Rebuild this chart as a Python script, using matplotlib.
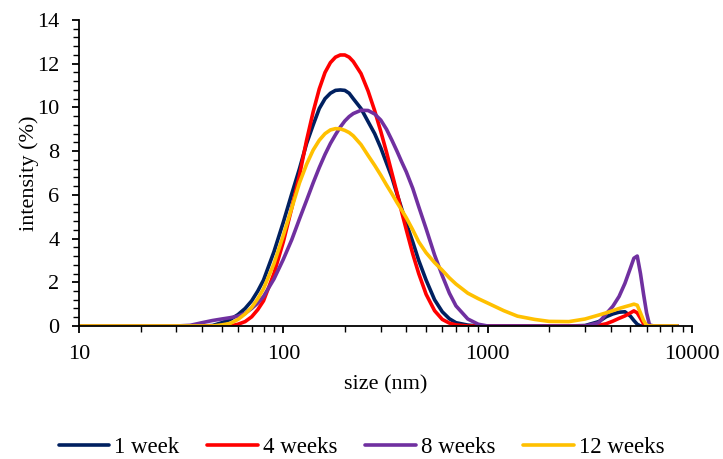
import matplotlib
matplotlib.use("Agg")
import matplotlib.pyplot as plt
from matplotlib.ticker import MultipleLocator, LogLocator, NullFormatter, FixedLocator

plt.rcParams['font.family'] = ['Liberation Serif', 'DejaVu Serif']

# size grid (nm) and intensity (%)
size_nm = [10, 20, 30, 35, 40, 45, 50, 55, 60, 65, 70, 75, 80, 90, 100,
           110, 120, 130, 140, 150, 160, 170, 180, 190, 200, 210, 220, 240,
           260, 280, 300, 320, 340, 360, 380, 400, 430, 460, 500, 550, 600,
           650, 700, 800, 900, 1000, 1200, 1400, 1700, 2000, 2500, 3000,
           3500, 3800, 4100, 4400, 4700, 5000, 5200, 5400, 5600, 5800, 6000,
           6200, 6500, 7000, 8500]

week1 = [0, 0, 0, 0, 0, 0.02, 0.15, 0.3, 0.52, 0.8, 1.15, 1.6, 2.1, 3.4, 4.75,
         6.05, 7.2, 8.35, 9.2, 9.95, 10.4, 10.65, 10.78, 10.8, 10.78, 10.65, 10.4, 9.95,
         9.35, 8.8, 8.15, 7.45, 6.8, 6.05, 5.35, 4.7, 3.85, 3.0, 2.1, 1.2, 0.65,
         0.33, 0.15, 0.04, 0, 0, 0, 0, 0, 0, 0, 0.02,
         0.2, 0.42, 0.55, 0.63, 0.65, 0.45, 0.25, 0.08, 0, 0, 0,
         0, 0, 0, 0]

week4 = [0, 0, 0, 0, 0, 0, 0, 0, 0.08, 0.2, 0.42, 0.75, 1.15, 2.4, 3.85,
         5.4, 6.9, 8.5, 9.8, 10.85, 11.6, 12.05, 12.3, 12.4, 12.4, 12.3, 12.1, 11.55,
         10.75, 9.85, 8.9, 7.95, 7.0, 6.1, 5.2, 4.4, 3.3, 2.4, 1.45, 0.7, 0.3,
         0.13, 0.05, 0, 0, 0, 0, 0, 0, 0, 0, 0,
         0.03, 0.1, 0.22, 0.35, 0.46, 0.6, 0.69, 0.6, 0.35, 0.1, 0,
         0, 0, 0, 0]

week8 = [0, 0, 0, 0.03, 0.15, 0.25, 0.32, 0.38, 0.45, 0.58, 0.8, 1.05, 1.35, 2.15, 3.05,
         3.95, 4.9, 5.75, 6.55, 7.25, 7.85, 8.35, 8.75, 9.1, 9.38, 9.58, 9.72, 9.87,
         9.86, 9.7, 9.42, 9.0, 8.5, 8.0, 7.5, 7.05, 6.3, 5.46, 4.45, 3.25, 2.3,
         1.5, 0.92, 0.32, 0.08, 0, 0, 0, 0, 0, 0, 0,
         0.15, 0.55, 0.9, 1.35, 1.95, 2.65, 3.1, 3.2, 2.4, 1.45, 0.6,
         0.05, 0, 0, 0]

week12 = [0, 0, 0, 0, 0, 0, 0.05, 0.12, 0.3, 0.55, 0.85, 1.25, 1.7, 2.85, 4.15,
          5.4, 6.55, 7.4, 8.05, 8.5, 8.8, 8.97, 9.03, 9.02, 8.95, 8.85, 8.7, 8.3,
          7.8, 7.35, 6.9, 6.45, 6.05, 5.65, 5.3, 4.95, 4.4, 3.85, 3.35, 2.9, 2.55,
          2.2, 1.92, 1.5, 1.25, 1.05, 0.7, 0.45, 0.3, 0.21, 0.2, 0.32,
          0.5, 0.6, 0.7, 0.8, 0.88, 0.95, 1.0, 0.95, 0.6, 0.25, 0.03,
          0, 0, 0, 0]

labels = ['1 week', '4 weeks', '8 weeks', '12 weeks']
colors = ['#002060', '#FF0000', '#7030A0', '#FFC000']

fig = plt.figure(figsize=(7.23, 4.59), dpi=100)
ax = fig.add_axes([0.1093, 0.2898, 0.8477, 0.6666])

for ys, lab, c in zip([week1, week4, week8, week12], labels, colors):
    ax.plot(size_nm, ys, color=c, lw=2.6, label=lab, solid_capstyle='round')

ax.set_xscale('log')
ax.set_xlim(10, 10000)
ax.set_ylim(0, 14)
ax.xaxis.set_major_locator(FixedLocator([10, 100, 1000, 10000]))
ax.xaxis.set_minor_locator(LogLocator(base=10, subs=range(2, 10)))
ax.xaxis.set_minor_formatter(NullFormatter())
ax.set_xticklabels(['10', '100', '1000', '10000'])
ax.yaxis.set_major_locator(MultipleLocator(2))
ax.yaxis.set_minor_locator(MultipleLocator(0.4))

for s in ['top', 'right']:
    ax.spines[s].set_visible(False)
for s in ['left', 'bottom']:
    ax.spines[s].set_linewidth(1.3)

ax.tick_params(which='major', length=5, width=1.3, labelsize=16, pad=9)
ax.tick_params(which='minor', length=4, width=1.0)

ax.set_xlabel('size (nm)', fontsize=16, labelpad=8)
ax.set_ylabel('intensity (%)', fontsize=16, labelpad=-1)

fig.legend(loc='center', ncol=4, frameon=False, fontsize=16.5,
           handlelength=2.2, handletextpad=0.22, columnspacing=1.22,
           bbox_to_anchor=(0.5, 0.025))

fig.savefig('out.png', dpi=100)
